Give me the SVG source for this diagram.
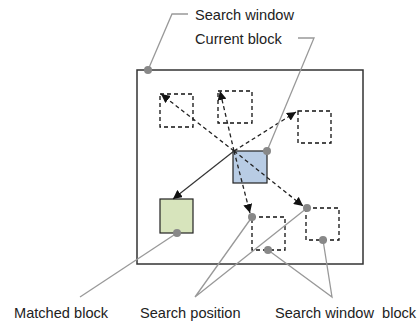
<svg xmlns="http://www.w3.org/2000/svg" width="418" height="324" viewBox="0 0 418 324">
<style>
.lbl{font-family:"Liberation Sans",Arial,sans-serif;font-size:14.6px;fill:#222}
.cand{fill:none;stroke:#111;stroke-width:1.3;stroke-dasharray:4,3}
.vec{stroke:#222;stroke-width:1.3;stroke-dasharray:4,3;fill:none}
.lead{stroke:#999;stroke-width:1.3;fill:none}
.dot{fill:#888}
</style>
<defs>
<marker id="ah" viewBox="0 0 10 10" refX="10" refY="5" markerWidth="9" markerHeight="9" markerUnits="userSpaceOnUse" orient="auto">
<path d="M0,0 L10,5 L0,10 z" fill="#111"/>
</marker>
</defs>
<g id="search-window"><rect x="137" y="70" width="226" height="194" fill="#fff" stroke="#333" stroke-width="1.5"/></g>
<g id="cand1"><rect class="cand" x="160" y="94" width="33" height="33"/></g>
<g id="cand2"><rect class="cand" x="218" y="91" width="34" height="32"/></g>
<g id="cand3"><rect class="cand" x="298" y="111" width="33" height="32"/></g>
<g id="cand4"><rect class="cand" x="252" y="217" width="33" height="33"/></g>
<g id="cand5"><rect class="cand" x="306" y="208" width="33" height="32"/></g>
<g id="current-block"><rect x="233" y="151" width="34" height="32" fill="#b8cce4" stroke="#222" stroke-width="1.2"/></g>
<g id="matched-block"><rect x="160" y="199" width="33" height="34" fill="#d7e4bc" stroke="#222" stroke-width="1.2"/></g>
<g id="connectors">
<line class="vec" x1="234" y1="151" x2="161" y2="94" marker-end="url(#ah)"/>
<line class="vec" x1="234" y1="151" x2="220" y2="91" marker-end="url(#ah)"/>
<line class="vec" x1="234" y1="151" x2="296" y2="112" marker-end="url(#ah)"/>
<line class="vec" x1="234" y1="151" x2="250" y2="213" marker-end="url(#ah)"/>
<line class="vec" x1="234" y1="151" x2="303" y2="206" marker-end="url(#ah)"/>
<line x1="234" y1="151" x2="173" y2="199" stroke="#333" stroke-width="1.2" marker-end="url(#ah)"/>
<polyline class="lead" points="148,70 172,14 188,14"/>
<polyline class="lead" points="267,151 314,38 298,38"/>
<line class="lead" x1="177" y1="233" x2="80" y2="297"/>
<polyline class="lead" points="252,217 195,297 307,208"/>
<polyline class="lead" points="268,250 332,297 323,240"/>
<circle class="dot" cx="148" cy="70" r="4"/>
<circle class="dot" cx="267" cy="151" r="4"/>
<circle class="dot" cx="177" cy="233" r="4"/>
<circle class="dot" cx="252" cy="217" r="4"/>
<circle class="dot" cx="307" cy="208" r="4"/>
<circle class="dot" cx="268" cy="250" r="4"/>
<circle class="dot" cx="323" cy="240" r="4"/>
</g>
<g id="labels">
<text class="lbl" x="195" y="20">Search window</text>
<text class="lbl" x="195" y="44">Current block</text>
<text class="lbl" x="14" y="318">Matched block</text>
<text class="lbl" x="140" y="318">Search position</text>
<text class="lbl" x="275" y="318" xml:space="preserve">Search window  block</text>
</g>
</svg>
